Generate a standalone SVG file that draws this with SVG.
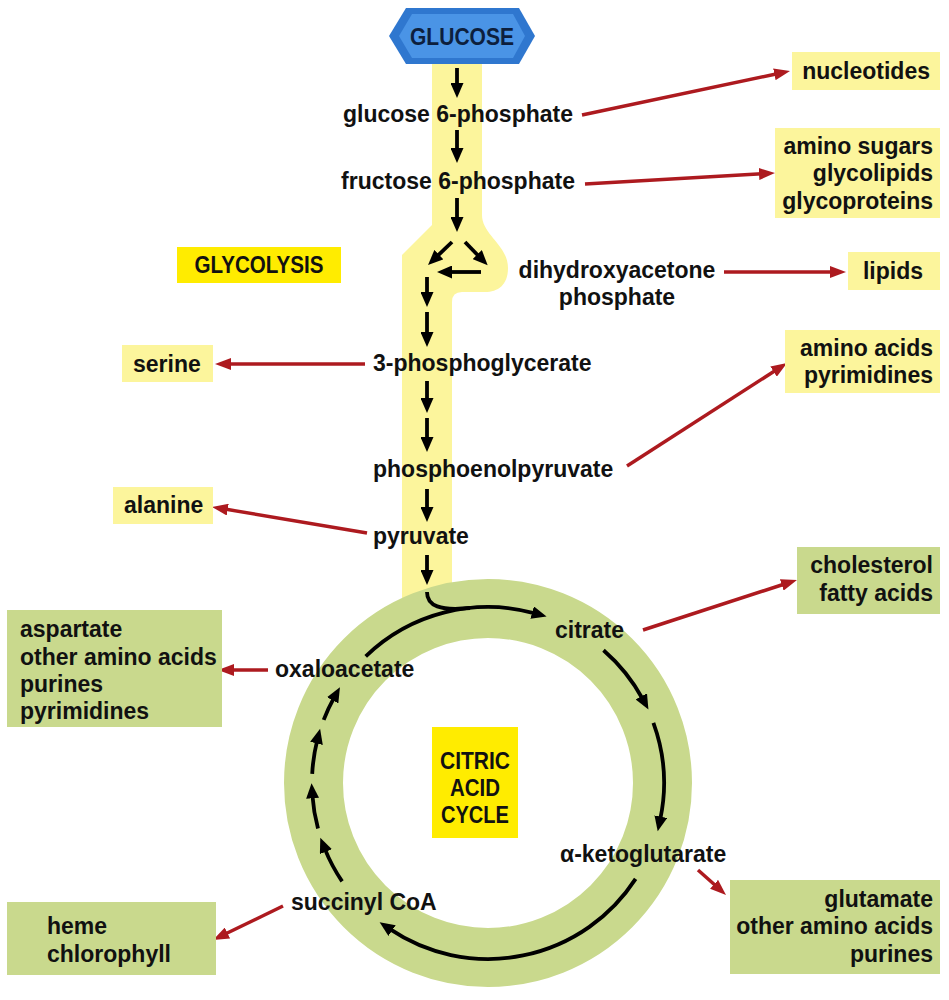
<svg xmlns="http://www.w3.org/2000/svg" width="949" height="1000" viewBox="0 0 949 1000">
<style>
.t{font-family:"Liberation Sans",Arial,sans-serif;font-weight:bold;font-size:23px;fill:#111}
.s{font-family:"Liberation Sans",Arial,sans-serif;font-weight:bold;font-size:23px;fill:#111}
.m{text-anchor:middle}.e{text-anchor:end}
.yb{fill:#fcf59c}.gb{fill:#c9d98d}.bb{fill:#ffec00}
.k{stroke:#000;stroke-width:3.8;fill:none;marker-end:url(#ak)}
.r{stroke:#ad1a1f;stroke-width:3.5;fill:none;marker-end:url(#ar)}
</style>
<defs>
<marker id="ak" markerUnits="userSpaceOnUse" markerWidth="16" markerHeight="13" refX="3" refY="6.5" orient="auto"><path d="M0,0 L15,6.5 L0,13 Z" fill="#000"/></marker>
<marker id="ar" markerUnits="userSpaceOnUse" markerWidth="17" markerHeight="12" refX="3" refY="6" orient="auto"><path d="M0,0 L16,6 L0,12 Z" fill="#ad1a1f"/></marker>
</defs>
<rect width="949" height="1000" fill="#fff"/>

<g id="pathway-band">
<path d="M432,60 H482 V215 C482,235 508,245 508,268 C508,285 498,292 485,292 H462 Q452,292 452,302 V610 H402 V255 L432,225 Z" fill="#fcf59c"/>
</g>
<g id="cycle-ring">
<circle cx="488" cy="783" r="174.5" fill="none" stroke="#c9d98d" stroke-width="59"/>
</g>

<g id="glucose">
<polygon points="389,36 406,8 519,8 535,36 519,64 406,64" fill="#2f77cf"/>
<polygon points="399,36 412,14 513,14 525,36 513,58 412,58" fill="#4a94e6"/>
<text class="s m" x="462" y="45" textLength="104" lengthAdjust="spacingAndGlyphs" style="fill:#0d1f3d">GLUCOSE</text>
</g>

<g id="connectors">
<line class="k" x1="457" y1="68" x2="457" y2="86"/>
<line class="k" x1="457" y1="130" x2="457" y2="151"/>
<line class="k" x1="457" y1="198" x2="457" y2="220"/>
<line class="k" x1="452" y1="242" x2="436.7" y2="256.7"/>
<line class="k" x1="465" y1="242" x2="479.3" y2="256.7"/>
<line class="k" x1="481" y1="272" x2="449" y2="272"/>
<line class="k" x1="427" y1="277" x2="427" y2="295"/>
<line class="k" x1="427" y1="312" x2="427" y2="335"/>
<line class="k" x1="427" y1="381" x2="427" y2="401"/>
<line class="k" x1="427" y1="418" x2="427" y2="440"/>
<line class="k" x1="427" y1="489" x2="427" y2="510"/>
<line class="k" x1="427" y1="555" x2="427" y2="573"/>
<path d="M427,592 C427,606 440,611 470,608" stroke="#000" stroke-width="3.8" fill="none"/>
<path class="k" d="M365.7,656.4 A176,176 0 0 1 535,613.4"/>
<path class="k" d="M603.5,650.2 A176,176 0 0 1 642.7,699"/>
<path class="k" d="M653.4,722.8 A176,176 0 0 1 660.2,819.6"/>
<path class="k" d="M635.6,878.9 A176,176 0 0 1 389.6,928.9"/>
<path class="k" d="M342.1,881.4 A176,176 0 0 1 324.8,848.9"/>
<path class="k" d="M318,828.5 A176,176 0 0 1 312.4,795.3"/>
<path class="k" d="M312.2,773.8 A176,176 0 0 1 317.2,740.4"/>
<path class="k" d="M323.7,719.9 A176,176 0 0 1 334.1,697.7"/>

<line class="r" x1="582" y1="115" x2="777.3" y2="73.7"/>
<line class="r" x1="585" y1="184" x2="762" y2="173.8"/>
<line class="r" x1="724" y1="272" x2="833" y2="272"/>
<line class="r" x1="365" y1="364" x2="228" y2="364"/>
<line class="r" x1="627" y1="466" x2="776.1" y2="370"/>
<line class="r" x1="367" y1="533" x2="224.8" y2="509.1"/>
<line class="r" x1="643" y1="630" x2="784.6" y2="584"/>
<line class="r" x1="268" y1="670" x2="231" y2="670"/>
<line class="r" x1="698" y1="870" x2="716.3" y2="886.3"/>
<line class="r" x1="283" y1="906" x2="224.7" y2="934.3"/>
</g>

<g id="g6p"><text class="t m" x="458" y="122">glucose 6-phosphate</text></g>
<g id="f6p"><text class="t m" x="458" y="189">fructose 6-phosphate</text></g>
<g id="dhap"><text class="t m" x="617" y="278">dihydroxyacetone</text><text class="t m" x="617" y="305">phosphate</text></g>
<g id="pg3"><text class="t" x="373" y="371">3-phosphoglycerate</text></g>
<g id="pep"><text class="t" x="373" y="477">phosphoenolpyruvate</text></g>
<g id="pyruvate"><text class="t" x="373" y="544">pyruvate</text></g>
<g id="citrate"><text class="t" x="555" y="638">citrate</text></g>
<g id="oxaloacetate"><text class="t" x="275" y="677">oxaloacetate</text></g>
<g id="akg"><text class="t" x="560" y="862">α-ketoglutarate</text></g>
<g id="succinyl"><text class="t" x="291" y="910">succinyl CoA</text></g>

<g id="glycolysis-label"><rect class="bb" x="177" y="247" width="164" height="36"/><text class="s m" x="259" y="273" textLength="129" lengthAdjust="spacingAndGlyphs">GLYCOLYSIS</text></g>
<g id="tca-label"><rect class="bb" x="432" y="727" width="86" height="111"/>
<text class="s m" x="475" y="769" textLength="70" lengthAdjust="spacingAndGlyphs">CITRIC</text><text class="s m" x="475" y="796" textLength="50" lengthAdjust="spacingAndGlyphs">ACID</text><text class="s m" x="475" y="823" textLength="68" lengthAdjust="spacingAndGlyphs">CYCLE</text></g>

<g id="nucleotides"><rect class="yb" x="792" y="52" width="148" height="38"/><text class="t e" x="930" y="79">nucleotides</text></g>
<g id="aminosugars"><rect class="yb" x="775" y="128" width="165" height="90"/>
<text class="t e" x="933" y="154">amino sugars</text><text class="t e" x="933" y="181">glycolipids</text><text class="t e" x="933" y="209">glycoproteins</text></g>
<g id="lipids"><rect class="yb" x="848" y="252" width="92" height="38"/><text class="t m" x="893" y="279">lipids</text></g>
<g id="aminoacids"><rect class="yb" x="785" y="330" width="155" height="63"/>
<text class="t e" x="933" y="356">amino acids</text><text class="t e" x="933" y="383">pyrimidines</text></g>
<g id="cholesterol"><rect class="gb" x="797" y="547" width="143" height="67"/>
<text class="t e" x="933" y="573">cholesterol</text><text class="t e" x="933" y="601">fatty acids</text></g>
<g id="glutamate"><rect class="gb" x="730" y="880" width="210" height="94"/>
<text class="t e" x="933" y="907">glutamate</text><text class="t e" x="933" y="934">other amino acids</text><text class="t e" x="933" y="962">purines</text></g>
<g id="serine"><rect class="yb" x="122" y="345" width="91" height="37"/><text class="t" x="133" y="372">serine</text></g>
<g id="alanine"><rect class="yb" x="113" y="487" width="100" height="37"/><text class="t" x="124" y="513">alanine</text></g>
<g id="aspartate"><rect class="gb" x="7" y="610" width="215" height="117"/>
<text class="t" x="20" y="637">aspartate</text><text class="t" x="20" y="665">other amino acids</text><text class="t" x="20" y="692">purines</text><text class="t" x="20" y="719">pyrimidines</text></g>
<g id="heme"><rect class="gb" x="7" y="902" width="209" height="73"/>
<text class="t" x="47" y="934">heme</text><text class="t" x="47" y="962">chlorophyll</text></g>
</svg>
